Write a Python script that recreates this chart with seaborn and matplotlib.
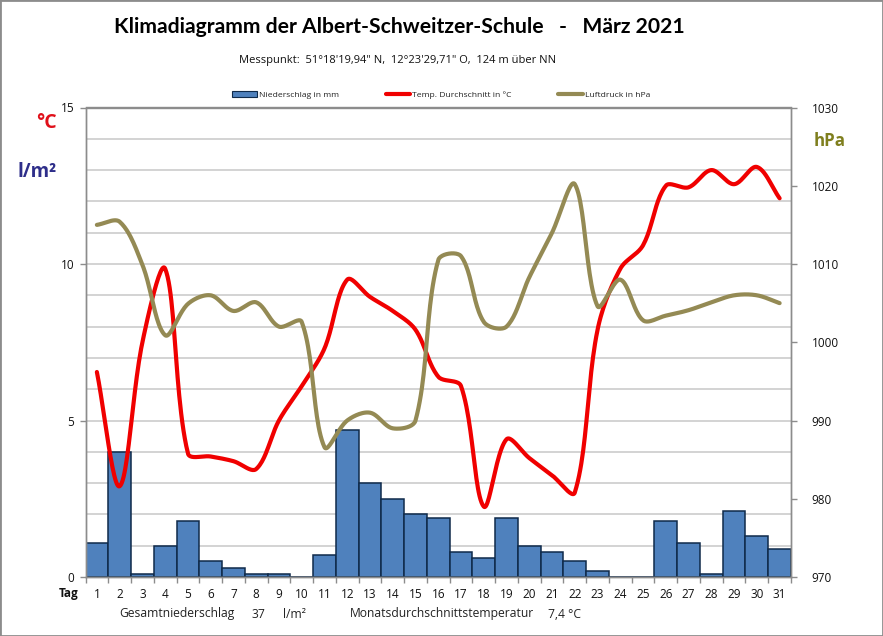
import numpy as np
import pandas as pd
import matplotlib
matplotlib.use('Agg')
import matplotlib.pyplot as plt
from matplotlib.lines import Line2D
from matplotlib.patches import Patch, Rectangle
from matplotlib.ticker import MultipleLocator
import seaborn as sns

# ==================== DATA ====================
days = list(range(1, 32))
rain = [1.1, 4.0, 0.1, 1.0, 1.8, 0.5, 0.3, 0.1, 0.1, 0.0, 0.7, 4.7, 3.0, 2.5, 2.0, 1.9,
        0.8, 0.6, 1.9, 1.0, 0.8, 0.5, 0.2, 0.0, 0.0, 1.8, 1.1, 0.1, 2.1, 1.3, 0.9]
temp = [6.55, 2.9, 7.5, 9.85, 3.95, 3.85, 3.7, 3.45, 5.0, 6.1, 7.3, 9.5, 8.95, 8.5, 7.9, 6.4,
        6.1, 2.25, 4.4, 3.8, 3.25, 2.7, 7.9, 9.85, 10.6, 12.5, 12.45, 13.0, 12.55, 13.1, 12.1]
pressure = [1015.0, 1015.4, 1009.9, 1000.9, 1004.9, 1006.0, 1004.0, 1005.1, 1002.0, 1002.6, 986.6,
            990.0, 991.0, 989.0, 990.0, 1010.5, 1011.0, 1002.6, 1002.0, 1008.3, 1014.0, 1020.2,
            1004.6, 1008.0, 1002.8, 1003.4, 1004.1, 1005.1, 1006.0, 1006.0, 1005.0]

BLUE = '#4F81BD'
RED = '#F00000'
OLIVE = '#948A54'
GRID = '#C8C8C8'
AXIS = '#8C8C8C'

W, H = 883, 636


def smooth(values, y_px, steps=24):
    # Excel style "smoothed line": bezier through the daily values, handles scaled by chord length
    x = np.arange(len(values)) * 22.76
    y = np.array(values, dtype=float) * y_px
    pts = np.column_stack([x, y])
    out = []
    for i in range(len(pts) - 1):
        a = pts[max(i - 1, 0)]
        b = pts[i]
        c = pts[i + 1]
        d = pts[min(i + 2, len(pts) - 1)]
        d1, d2, d3 = np.linalg.norm(b - a), np.linalg.norm(c - b), np.linalg.norm(d - c)
        c1 = b + (c - a) * d2 / (d1 + d2) / 3
        c2 = c - (d - b) * d2 / (d2 + d3) / 3
        t = np.linspace(0, 1, steps, endpoint=False)[:, None]
        out.append((1 - t) ** 3 * b + 3 * (1 - t) ** 2 * t * c1 + 3 * (1 - t) * t ** 2 * c2 + t ** 3 * c)
    out.append(pts[-1:])
    out = np.concatenate(out)
    return out[:, 0] / 22.76, out[:, 1] / y_px


sns.set_theme(style='white')
plt.rcParams['font.family'] = ['Open Sans', 'DejaVu Sans']

fig = plt.figure(figsize=(W / 100, H / 100), dpi=100)
ax = fig.add_axes([85.5 / W, 1 - 577 / H, (791 - 85.5) / W, (577 - 107.5) / H])

# ==================== BARS ====================
df = pd.DataFrame({'day': [str(d) for d in days], 'rain': rain})
sns.barplot(data=df, x='day', y='rain', color=BLUE, saturation=1, width=1,
            edgecolor='#0F2A4A', linewidth=1.1, ax=ax, zorder=2)
ax.set_xlim(-0.5, 30.5)
ax.set_ylim(0, 15)
ax.set_xlabel('')
ax.set_ylabel('')

ax.yaxis.set_major_locator(MultipleLocator(5))
ax.yaxis.set_minor_locator(MultipleLocator(1))
ax.grid(True, axis='y', which='both', color=GRID, linewidth=1.1, zorder=0)
ax.grid(False, axis='x')
ax.set_axisbelow(True)

ax.set_xticks(range(31))
ax.set_xticklabels([str(d) for d in days])
ax.set_xticks(np.arange(-0.5, 31), minor=True)
ax.tick_params(axis='x', which='major', length=0, pad=8, labelsize=8.5, labelcolor='#111111')
ax.tick_params(axis='x', which='minor', length=4, width=1, color=AXIS, bottom=True)
ax.tick_params(axis='y', which='major', length=4, width=1, color=AXIS, left=True, labelsize=8.5,
               labelcolor='#111111', pad=4)
ax.tick_params(axis='y', which='minor', length=0)

# ==================== LINES ====================
ax2 = ax.twinx()
ax2.set_ylim(970, 1030)
ax2.yaxis.set_major_locator(MultipleLocator(10))
ax2.tick_params(axis='y', which='major', length=4, width=1, color=AXIS, right=True, labelsize=8.5,
                labelcolor='#111111', pad=11)
ax2.grid(False)

px, py = smooth(pressure, 7.825)
sns.lineplot(x=px, y=py, color=OLIVE, linewidth=3, ax=ax2, zorder=4, sort=False, estimator=None)
tx, ty = smooth(temp, 31.3)
# temperature goes on the left scale, drawn onto the second axes via the scale conversion
sns.lineplot(x=tx, y=970 + ty * 4, color=RED, linewidth=3, ax=ax2, zorder=3, sort=False, estimator=None)
ax2.set_xlabel('')
ax2.set_ylabel('')
ax2.set_xlim(-0.5, 30.5)

for a in (ax, ax2):
    for side in a.spines:
        a.spines[side].set_color(AXIS)
        a.spines[side].set_linewidth(1)

# ==================== LEGEND ====================
handles = [Patch(facecolor=BLUE, edgecolor='#0F2A4A', linewidth=0.8),
           Line2D([], [], color=RED, linewidth=3),
           Line2D([], [], color=OLIVE, linewidth=3)]
labels = ['Niederschlag in mm', 'Temp. Durchschnitt in °C', 'Luftdruck in hPa']
fig.legend(handles, labels, ncol=3, frameon=False, fontsize=6.1, loc='center',
           bbox_to_anchor=(441.5 / W, 1 - 95 / H), handlelength=2.9, handleheight=0.7,
           handletextpad=0.25, columnspacing=5.5, labelcolor='#222222')

# ==================== TEXT ====================
def label(x, y, s, **kw):
    kw.setdefault('va', 'center')
    fig.text(x / W, 1 - y / H, s, **kw)


label(399, 27, 'Klimadiagramm der Albert-Schweitzer-Schule   -   März 2021', ha='center',
      fontsize=15.2, fontweight='bold', color='black', family=['Lato', 'DejaVu Sans'])
label(398, 61, 'Messpunkt:  51°18\'19,94" N,  12°23\'29,71" O,  124 m über NN', ha='center',
      fontsize=8, color='#111111')
label(46, 123, '°C', ha='center', fontsize=14, fontweight='bold', color='#E0101A')
label(37, 172, 'l/m²', ha='center', fontsize=13.5, fontweight='bold', color='#2E2E8A')
label(830, 141, 'hPa', ha='center', fontsize=12.2, fontweight='bold', color='#7F7F1E')
label(69, 593, 'Tag', ha='center', fontsize=8.5, fontweight='bold', color='#111111')
label(119, 614, 'Gesamtniederschlag', ha='left', fontsize=8.7, color='#222222')
label(258, 614, '37', ha='center', fontsize=8.7, color='#222222')
label(294, 614, 'l/m²', ha='center', fontsize=8.7, color='#222222')
label(350, 614, 'Monatsdurchschnittstemperatur', ha='left', fontsize=8.7, color='#222222')
label(581, 614, '7,4 °C', ha='right', fontsize=8.7, color='#222222')

# grey picture border
fig.add_artist(Rectangle((0, 0), 1, 1, transform=fig.transFigure, fill=False,
                         edgecolor='#8C8C8C', linewidth=2))

fig.savefig('out.png', dpi=100)
